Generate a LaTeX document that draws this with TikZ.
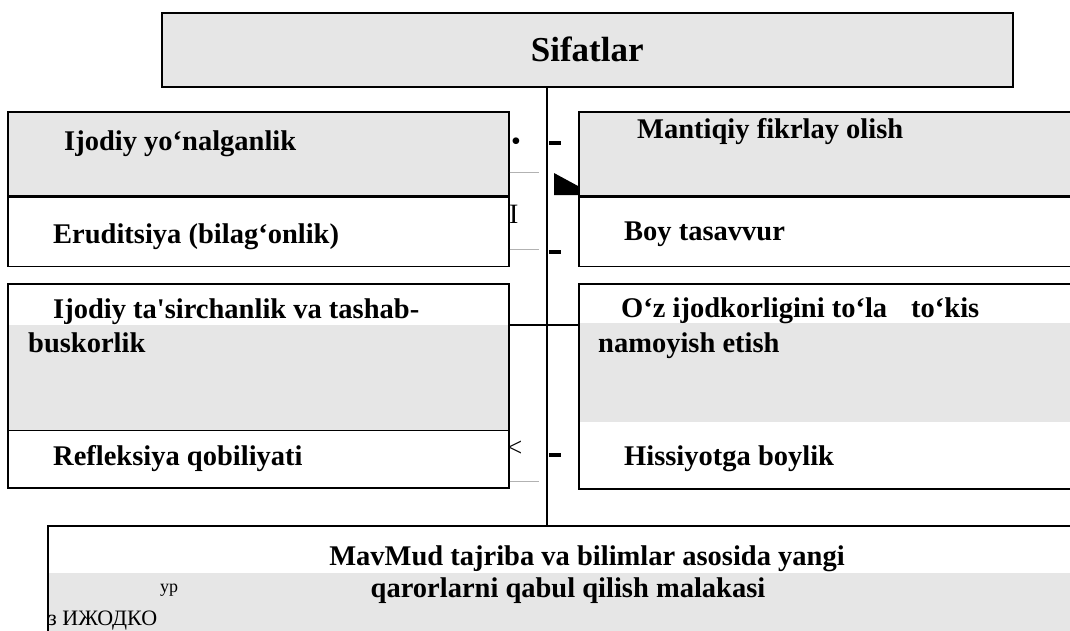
\documentclass[tikz,border=0pt]{standalone}
\usepackage{fontspec}
\setmainfont{Liberation Serif}[Ligatures=TeXOff, BoldFont={Liberation Serif Bold}]
\usepackage{tikz}
\usetikzlibrary{positioning,calc}
\definecolor{boxgray}{RGB}{230,230,230}

\begin{document}
\begin{tikzpicture}[
    x=1pt, y=-1pt,
    frame/.style={rectangle, draw, line width=1.5pt, inner sep=0pt, anchor=north west},
    shaded/.style={rectangle, fill=boxgray, draw=none, inner sep=0pt, anchor=north west},
    quality/.style={font=\rmfamily\bfseries\fontsize{28.5}{34}\selectfont, anchor=base west, inner sep=0pt},
    stray/.style={font=\rmfamily\fontsize{28}{32}\selectfont, anchor=base west, inner sep=0pt},
    blip/.style={rectangle, fill=black, minimum width=12pt, minimum height=4pt, inner sep=0pt},
    conn/.style={line width=1.3pt},
    tick/.style={gray!60, line width=1pt}
]
    \useasboundingbox (0,0) rectangle (1070,630);

    % ============================================================
    % TITLE
    % ============================================================
    \node[frame, fill=boxgray, minimum width=851pt, minimum height=74pt,
          font=\rmfamily\bfseries\fontsize{35}{40}\selectfont] (sifat) at (161,12) {Sifatlar};

    % ============================================================
    % GREY BANDS (drawn first)
    % ============================================================
    \node[shaded, minimum width=501pt, minimum height=105pt] (lgray) at (7,325) {};
    \node[shaded, minimum width=497pt, minimum height=99pt] (rgray) at (578,323) {};
    \node[shaded, minimum width=1028pt, minimum height=67pt] (bgray) at (47,573) {};

    % ============================================================
    % LEFT COLUMN
    % ============================================================
    \node[frame, fill=boxgray, minimum width=501pt, minimum height=84pt] (ltop) at (7,111) {};
    \node[frame, minimum width=501pt, minimum height=69pt, below=0pt of ltop] (lbot) {};
    \node[frame, minimum width=501pt, minimum height=204pt] (lmid) at (7,283) {};
    \draw[line width=1.5pt] (lgray.south west) -- (lgray.south east);

    \node[quality] (t-yonal) at (64,150) {Ijodiy yo‘nalganlik};
    \node[quality] (t-erud) at (53,243) {Eruditsiya (bilag‘onlik)};
    \node[quality] (t-tasir) at (53,318) {Ijodiy ta'sirchanlik va tashab-};
    \node[quality] (t-busk) at (28,352) {buskorlik};
    \node[quality] (t-refl) at (53,465) {Refleksiya qobiliyati};

    % ============================================================
    % RIGHT COLUMN
    % ============================================================
    \node[frame, fill=boxgray, minimum width=497pt, minimum height=84pt] (rtop) at (578,111) {};
    \node[frame, minimum width=497pt, minimum height=69pt, below=0pt of rtop] (rbot) {};
    \node[frame, minimum width=497pt, minimum height=205pt] (rmid) at (578,283) {};

    \node[quality] (t-mant) at (637,138) {Mantiqiy fikrlay olish};
    \node[quality] (t-boy) at (624,240) {Boy tasavvur};
    \node[quality] (t-ijod) at (621,317) {O‘z ijodkorligini to‘la};
    \node[quality] (t-tokis) at (911,317) {to‘kis};
    \node[quality] (t-namo) at (598,352) {namoyish etish};
    \node[quality] (t-hiss) at (624,465) {Hissiyotga boylik};

    % ============================================================
    % BOTTOM BOX
    % ============================================================
    \node[frame, minimum width=1028pt, minimum height=115pt] (base) at (47,525) {};
    \node[quality, anchor=base] (t-mav) at (587,565) {MavMud tajriba va bilimlar asosida yangi};
    \node[quality, anchor=base] (t-qaror) at (568,597) {qarorlarni qabul qilish malakasi};
    \node[stray, font=\rmfamily\fontsize{18}{20}\selectfont] (t-ur) at (160,592) {ур};
    \node[stray, font=\rmfamily\fontsize{22}{24}\selectfont] (t-izh) at (48,625) {з ИЖОДКО};

    % ============================================================
    % CONNECTORS
    % ============================================================
    \coordinate (trunk) at (547,0);
    \draw[conn] (trunk |- sifat.south) -- (trunk |- base.north);
    \draw[conn] (lmid.east |- lgray.north) -- (rmid.west |- lgray.north);

    % stray marks between the columns
    \node[stray] (m-dot) at (511,150) {•};
    \node[stray] (m-i) at (509,223) {I};
    \node[stray, font=\rmfamily\fontsize{27}{30}\selectfont] (m-lt) at (507,456) {<};
    \node[blip] (b1) at (555,143) {};
    \node[blip] (b2) at (555,252) {};
    \node[blip] (b3) at (555,455) {};
    \fill (554,173) -- (578,186) -- (578,195) -- (554,195) -- cycle;
    \draw[tick] (ltop.east |- 0,172) -- (539,172);
    \draw[tick] (lbot.east |- 0,249) -- (539,249);
    \draw[tick] (lmid.east |- 0,481) -- (539,481);

\end{tikzpicture}
\end{document}
